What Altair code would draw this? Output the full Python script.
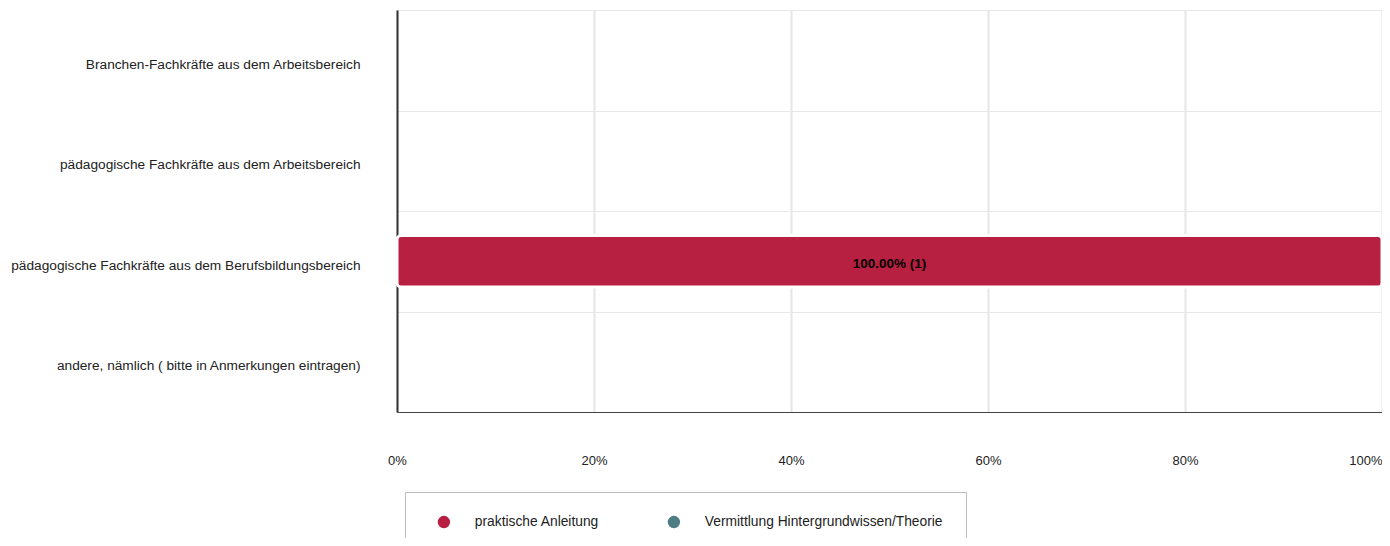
import altair as alt
import pandas as pd

categories = [
    "Branchen-Fachkräfte aus dem Arbeitsbereich",
    "pädagogische Fachkräfte aus dem Arbeitsbereich",
    "pädagogische Fachkräfte aus dem Berufsbildungsbereich",
    "andere, nämlich ( bitte in Anmerkungen eintragen)",
]
series = ["praktische Anleitung", "Vermittlung Hintergrundwissen/Theorie"]
pct_praktisch = [0, 0, 100, 0]
pct_theorie = [0, 0, 0, 0]
count_praktisch = [0, 0, 1, 0]
count_theorie = [0, 0, 0, 0]
colors = ["#b82041", "#4f7d84"]
x_ticks = [0, 20, 40, 60, 80, 100]

rows = []
for i, c in enumerate(categories):
    rows.append({"category": c, "series": series[0], "order": 0,
                 "pct": pct_praktisch[i], "count": count_praktisch[i]})
    rows.append({"category": c, "series": series[1], "order": 1,
                 "pct": pct_theorie[i], "count": count_theorie[i]})
df = pd.DataFrame(rows)

FONT = "Liberation Sans"

base = alt.Chart(df).transform_stack(
    stack="pct", groupby=["category"], as_=["x0", "x1"],
    sort=[alt.SortField("order", order="ascending")]
).transform_filter("datum.pct > 0")

x_scale = alt.Scale(domain=[0, 100], nice=False)
y_scale = alt.Scale(domain=categories, paddingInner=0, paddingOuter=0)
y_enc = alt.Y(
    "category:N", sort=categories, scale=y_scale,
    axis=alt.Axis(title=None, ticks=False, labelPadding=37, labelFontSize=13.7,
                  labelOffset=4,
                  labelFont=FONT, labelColor="#222", labelLimit=500,
                  domainColor="#333", domainWidth=2, grid=True,
                  tickBand="extent", gridColor="#e8e8e8", gridWidth=1.2),
)

bars = base.mark_bar(stroke="white", strokeWidth=3, cornerRadiusEnd=4,
                     height=alt.RelativeBandSize(0.51)).encode(
    x=alt.X("x0:Q", scale=x_scale,
            axis=alt.Axis(title=None, values=x_ticks, ticks=False,
                          labelExpr="datum.value + '%'", labelPadding=42,
                          labelFontSize=13, labelFont=FONT, labelColor="#222",
                          labelAlign={"expr": "datum.value >= 100 ? 'right' : 'center'"},
                          grid=True, gridColor="#e6e6e6", gridWidth=2,
                          domainColor="#444", domainWidth=1.2)),
    x2="x1:Q",
    y=y_enc,
    color=alt.Color("series:N",
                    scale=alt.Scale(domain=series, range=colors),
                    legend=alt.Legend(title=None, orient="none", legendX=8, legendY=482,
                                      direction="horizontal", symbolType="circle",
                                      symbolSize=154, symbolStrokeWidth=0,
                                      symbolOffset=9, labelOffset=24,
                                      columnPadding=58, padding=23,
                                      strokeColor="#bdbdbd", fillColor="white",
                                      labelFontSize=13.8, labelFont=FONT,
                                      labelColor="#222", labelLimit=400)),
)

labels = base.transform_calculate(
    mid="(datum.x0 + datum.x1) / 2",
    label="format(datum.pct, '.2f') + '% (' + datum.count + ')'",
).mark_text(font=FONT, fontSize=13.5, fontWeight="bold", color="#000", dy=3).encode(
    x=alt.X("mid:Q", scale=x_scale),
    y=alt.Y("category:N", sort=categories, scale=y_scale),
    text="label:N",
)

chart = alt.layer(bars, labels).properties(
    width=985, height=402,
    autosize="none",
    padding={"left": 389, "top": 2, "right": 0, "bottom": 126},
).configure_view(strokeWidth=0)

chart.save("out.html", embed_options={"renderer": "svg", "actions": False})
